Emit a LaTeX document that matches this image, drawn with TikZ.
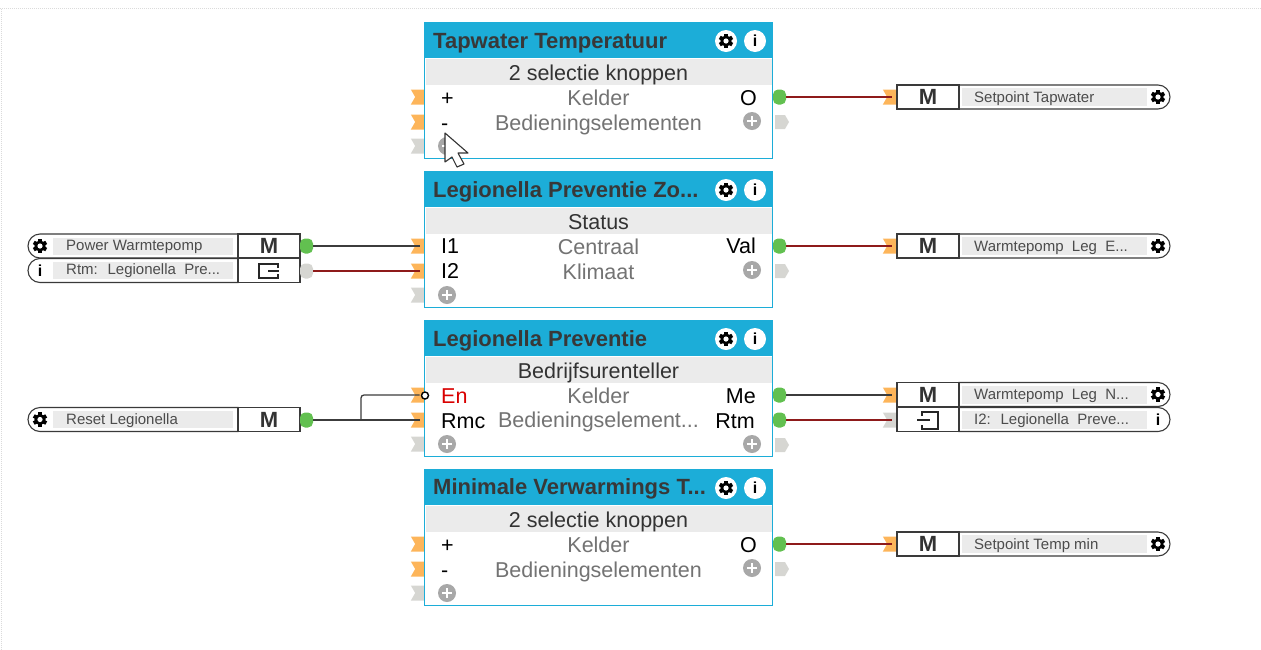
\documentclass[tikz,border=0pt]{standalone}
\usepackage{fontspec}
\setmainfont{Liberation Sans}
\usetikzlibrary{positioning,calc,shapes.misc,shapes.symbols}
\definecolor{blockblue}{HTML}{1CADD8}
\definecolor{barline}{HTML}{3A3A3A}
\definecolor{lightfill}{HTML}{EBEBEB}
\definecolor{tagorange}{HTML}{FDB55A}
\definecolor{taggrey}{HTML}{D6D6D2}
\definecolor{okgreen}{HTML}{62C050}
\definecolor{wirered}{HTML}{8E1A1A}
\definecolor{wiredark}{HTML}{3C3C3C}
\definecolor{plusgrey}{HTML}{A8A8A8}
\newcommand{\cutoff}{...}
\begin{document}
\begin{tikzpicture}[x=1pt,y=-1pt,
  blockbox/.style={draw=blockblue, line width=1.2pt, fill=white, minimum width=348pt,
                   minimum height=136pt, inner sep=0pt},
  headbar/.style={fill=blockblue, minimum width=349pt, minimum height=36pt, inner sep=0pt},
  subbar/.style={fill=lightfill, minimum width=346pt, minimum height=26pt, inner sep=0pt},
  subtxt/.style={inner sep=0pt, text height=16pt, text depth=0pt, text=black!80,
                 font=\fontsize{21.5}{24}\selectfont},
  blocktitle/.style={anchor=west, inner sep=0pt, text height=15pt, text depth=0pt, text=black!78,
                     font=\fontsize{22}{24}\selectfont\bfseries},
  whitedot/.style={circle, fill=white, minimum size=22pt, inner sep=0pt},
  infotxt/.style={inner sep=0pt, font=\fontsize{16}{16}\selectfont\bfseries},
  intag/.style={signal, signal from=west, signal to=nowhere, signal pointer angle=120,
                minimum width=13pt, minimum height=15pt, inner sep=0pt, fill=tagorange},
  freetag/.style={intag, fill=taggrey},
  outtag/.style={signal, signal to=east, signal from=nowhere, signal pointer angle=120,
                 minimum width=14pt, minimum height=14pt, inner sep=0pt, fill=taggrey},
  outdot/.style={rectangle, rounded corners=5pt, minimum width=13pt, minimum height=15pt,
                 inner sep=0pt, fill=okgreen},
  idledot/.style={outdot, fill=taggrey},
  portin/.style={anchor=west, inner sep=0pt, text height=16pt, text depth=0pt,
                 font=\fontsize{21.5}{24}\selectfont},
  portout/.style={anchor=east, inner sep=0pt, text height=16pt, text depth=0pt,
                  font=\fontsize{21.5}{24}\selectfont},
  place/.style={inner sep=0pt, text height=16pt, text depth=0pt, text=black!55,
                font=\fontsize{21.5}{24}\selectfont},
  capleft/.style={rounded rectangle, rounded rectangle east arc=none, draw=barline,
                  line width=1.1pt, minimum width=210pt, minimum height=24pt, inner sep=0pt},
  capright/.style={rounded rectangle, rounded rectangle west arc=none, draw=barline,
                   line width=1.1pt, minimum width=211pt, minimum height=24pt, inner sep=0pt},
  modecell/.style={draw=barline, line width=1.1pt, minimum width=62pt, minimum height=24pt,
                   inner sep=0pt, text=black!80, font=\fontsize{22}{24}\selectfont\bfseries},
  leftfill/.style={fill=lightfill, minimum width=180pt, minimum height=17pt, inner sep=0pt},
  rightfill/.style={fill=lightfill, minimum width=185pt, minimum height=18pt, inner sep=0pt},
  barlabel/.style={anchor=west, inner sep=0pt, text height=10pt, text depth=0pt, text=black!70,
                   font=\fontsize{15}{17}\selectfont},
  wireblack/.style={wiredark, line width=1.3pt},
  wirehot/.style={wirered, line width=1.3pt},
  gearicon/.pic={
    \fill[black] (0,0) circle (5.6);
    \foreach \a in {0,60,...,300} \fill[black, rotate=\a] (-1.9,-3) rectangle (1.9,-7.2);
    \fill[white] (0,0) circle (2.6);
  },
  plusicon/.pic={
    \fill[plusgrey] (0,0) circle (9);
    \draw[white, line width=2pt] (-5,0) -- (5,0) (0,-5) -- (0,5);
  }
]
\useasboundingbox (0,0) rectangle (1261,649);
% Page edge
\draw[black!14, line width=1pt, densely dotted] (0,8.5) -- (1261,8.5) (1.5,8.5) -- (1.5,649);
% Block frames
\foreach \b/\t in {A/22,B/171,C/320,D/469} {
  \node[blockbox] (block\b) at (598.5,\t+68.5) {};
  \node[headbar] (head\b) at (598.5,\t+18) {};
  \node[subbar] (sub\b) at (598.5,\t+50) {};
  \node[whitedot] (gear\b) at (726,\t+19) {};
  \node[whitedot] (info\b) at (755,\t+19) {};
  \pic at (gear\b) {gearicon};
  \node[infotxt] at (info\b) {i};
  \node[intag] (in\b1) at (419.5,\t+75) {};
  \node[intag] (in\b2) at (419.5,\t+100) {};
  \node[freetag] (in\b3) at (419.5,\t+124) {};
  \pic at (447,\t+124) {plusicon};
}
% Block texts
\node[blocktitle] at (433,41) {Tapwater Temperatuur};
\node[blocktitle] at (433,190) {Legionella Preventie Zo...};
\node[blocktitle] at (433,339) {Legionella Preventie};
\node[blocktitle] at (433,487) {Minimale Verwarmings T...};
\node[subtxt] at (subA) {2 selectie knoppen};
\node[subtxt] at (subB) {Status};
\node[subtxt] at (subC) {Bedrijfsurenteller};
\node[subtxt] at (subD) {2 selectie knoppen};
\node[place] at (598.5,97) {Kelder};
\node[place] at (598.5,122) {Bedieningselementen};
\node[place] at (598.5,246) {Centraal};
\node[place] at (598.5,271) {Klimaat};
\node[place] at (598.5,395) {Kelder};
\node[place] at (598.5,419) {Bedieningselement...};
\node[place] at (598.5,544) {Kelder};
\node[place] at (598.5,569) {Bedieningselementen};
\node[portin] at (441,97) {+};
\node[portin] at (441,122) {-};
\node[portin] at (441,245) {I1};
\node[portin] at (441,270) {I2};
\node[portin, text=red!85!black] at (441,395) {En};
\node[portin] at (441,420) {Rmc};
\node[portin] at (441,544) {+};
\node[portin] at (441,569) {-};
\node[portout] at (757,97) {O};
\node[portout] at (756,245) {Val};
\node[portout] at (756,395) {Me};
\node[portout] at (755,420) {Rtm};
\node[portout] at (757,544) {O};
% Outputs of the blocks
\node[outdot] (outA) at (779.5,97) {};
\node[outdot] (outB) at (779.5,246) {};
\node[outdot] (outC) at (779.5,395) {};
\node[outdot] (outE) at (779.5,420) {};
\node[outdot] (outD) at (779.5,544) {};
\node[outtag] (spareA) at (780,122) {};
\node[outtag] (spareB) at (780,271) {};
\node[outtag] (spareC) at (780,445) {};
\node[outtag] (spareD) at (780,569) {};
\pic at (752,121) {plusicon};
\pic at (752,270) {plusicon};
\pic at (752,444) {plusicon};
\pic at (752,568) {plusicon};
% Left bars
\foreach \r/\y in {Power/246,Rtm/270.5,Reset/419.5} {
  \node[capleft] (cap\r) at (133,\y) {};
  \node[modecell] (mode\r) at (269,\y) {};
  \node[leftfill] (fill\r) at (143,\y) {};
}
\node at (modePower) [modecell, draw=none] {M};
\node at (modeReset) [modecell, draw=none] {M};
\node[barlabel] at (66,245.5) {Power Warmtepomp};
\node[barlabel] at (66,269.5) {Rtm: \ Legionella \ Pre...};
\node[barlabel] at (66,419.5) {Reset Legionella};
\pic at (40,246) {gearicon};
\node[infotxt] at (40,270.5) {i};
\pic at (40,419.5) {gearicon};
\node[outdot] (dotPower) at (306.5,246) {};
\node[idledot] (dotRtm) at (306.5,271) {};
\node[outdot] (dotReset) at (306.5,420) {};
\draw[black!85, line width=1.4pt] (278,268) -- (278,264) -- (259,264) -- (259,278) -- (278,278) -- (278,274)
  (268,271) -- (279,271);
% Right bars
\node[intag] (tagTap) at (891.5,97) {};
\node[intag] (tagLegE) at (891.5,246) {};
\node[intag] (tagLegN) at (891.5,395) {};
\node[freetag] (tagIn) at (891.5,420) {};
\node[intag] (tagMin) at (891.5,544) {};
\foreach \r/\y/\s in {Tap/97/Setpoint Tapwater,
                      LegE/246/Warmtepomp \ Leg \ E\cutoff,
                      LegN/394.5/Warmtepomp \ Leg \ N\cutoff,
                      Min/544/Setpoint Temp min} {
  \node[modecell] (mode\r) at (928,\y) {M};
  \node[capright] (cap\r) at (1064.5,\y) {};
  \node[rightfill] (fill\r) at (1054.5,\y) {};
  \node[barlabel] at (974,\y) {\s};
  \pic at (1158,\y) {gearicon};
}
\node[modecell] (modeIn) at (928,419.5) {};
\node[capright] (capIn) at (1064.5,419.5) {};
\node[rightfill] (fillIn) at (1054.5,419.5) {};
\node[barlabel] at (974,419.5) {I2: \ Legionella \ Preve...};
\node[infotxt] at (1158,419.5) {i};
\draw[black!85, line width=1.4pt] (922,416) -- (922,412) -- (938,412) -- (938,429) -- (922,429) -- (922,425)
  (917,420) -- (930,420);
% Wires
\coordinate (branch) at (361,420);
\draw[wireblack] (dotPower.east) -- (inB1.center);
\draw[wirehot] (dotRtm.east) -- (inB2.center);
\draw[wireblack] (dotReset.east) -- (inC2.center);
\draw[wireblack, rounded corners=3pt] (branch) -- (361,395) -- (inC1.center);
\draw[wirehot] (outA.east) -- (tagTap.center);
\draw[wirehot] (outB.east) -- (tagLegE.center);
\draw[wireblack] (outC.east) -- (tagLegN.center);
\draw[wirehot] (outE.east) -- (tagIn.center);
\draw[wirehot] (outD.east) -- (tagMin.center);
\node[circle, draw=black, fill=white, line width=1.4pt, minimum size=7pt, inner sep=0pt] (negEn) at (425,395.5) {};
% Mouse pointer
\draw[fill=white, draw=black!80, line width=1.1pt, line join=round] (445,133) -- (445,162) -- (452,157)
  -- (457,167) -- (464,164) -- (458,153) -- (468,153) -- cycle;
\end{tikzpicture}
\end{document}
